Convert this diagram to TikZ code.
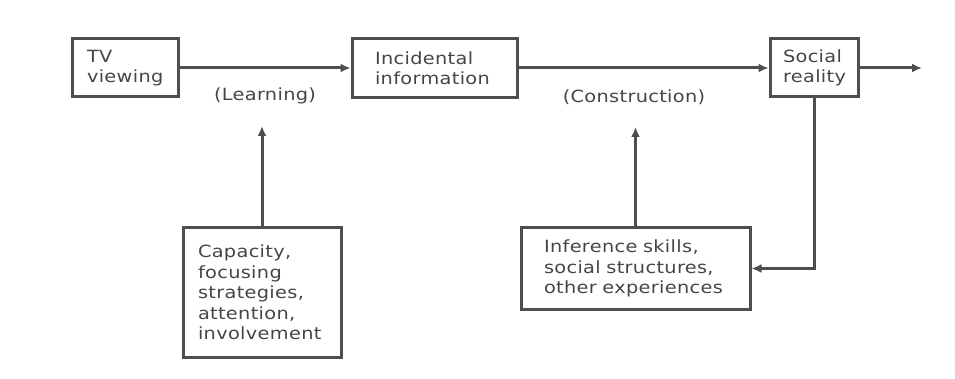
\documentclass[tikz,border=0pt]{standalone}
\usepackage{fontspec}
\setmainfont{DejaVu Sans}[FakeStretch=1.15,LetterSpace=2]
\usetikzlibrary{arrows.meta}
\definecolor{inkgray}{HTML}{4E4E4E}
\definecolor{textgray}{HTML}{454545}
\begin{document}
\begin{tikzpicture} [x=1pt,y=-1pt,color=inkgray,line width=3pt]
  % lines and arrow heads a bit thicker, grey like the print
  \tikzstyle{box}=[draw, rectangle, align=left, text=textgray,
                   font=\fontsize{16.8}{20.5}\selectfont]
  \tikzstyle{lbl}=[text=textgray, font=\fontsize{16.8}{20.5}\selectfont]
  \tikzset{>={Latex[length=10pt,width=9pt]}}

  \useasboundingbox (0,0) rectangle (955,379);

  % Draw the boxes
  \node [box, minimum height=58pt, text width=76pt,  inner xsep=15pt] (TV)  at (125.0, 68.0) {TV\\viewing};
  \node [box, minimum height=59pt, text width=119pt, inner xsep=23pt] (Inc) at (434.5, 68.0) {Incidental\\information};
  \node [box, minimum height=58pt, text width=62pt,  inner xsep=13pt] (SR)  at (814.0, 68.0) {Social\\reality};
  \node [box, minimum height=129pt, text width=128pt, inner xsep=15pt] (Cap) at (262.0, 292.5) {Capacity,\\focusing\\strategies,\\attention,\\involvement};
  \node [box, minimum height=81pt, text width=183pt, inner xsep=23pt] (Inf) at (635.5, 268.5) {Inference skills,\\social structures,\\other experiences};

  % free ends of the arrows
  \coordinate (out)    at (922.0, 68.0);
  \coordinate (learn)  at (262.0, 126.0);
  \coordinate (constr) at (635.5, 127.0);

  % labels on the main line
  \node [lbl] (Lrn) at (265.0, 96.0) {(Learning)};
  \node [lbl] (Con) at (634.0, 97.0) {(Construction)};

  % main flow
  \draw[->] (TV.east)  -- (Inc.west);
  \draw[->] (Inc.east) -- (SR.west);
  \draw[->] (SR.east)  -- (out);

  % influences from below
  \draw[->] (Cap.north) -- (learn);
  \draw[->] (Inf.north) -- (constr);

  % feedback
  \draw[->] (SR.south) |- (Inf.east);

\end{tikzpicture}
\end{document}
